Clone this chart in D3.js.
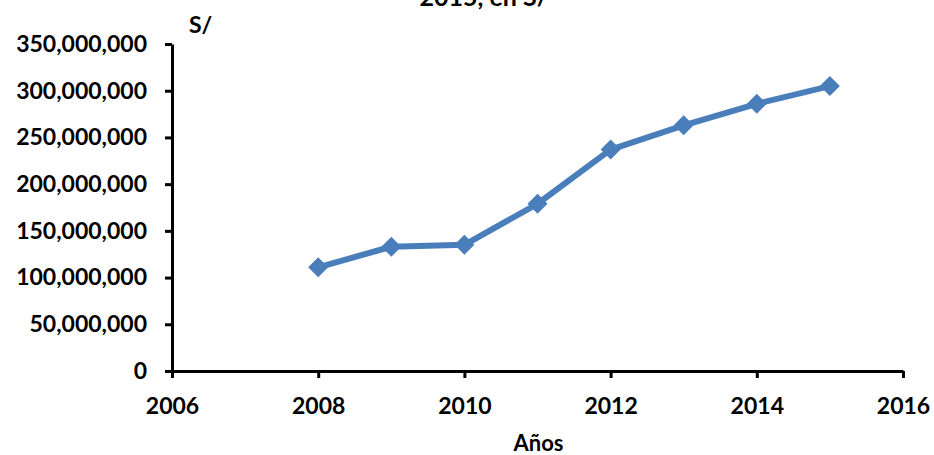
<!DOCTYPE html>
<html>
<head>
<meta charset="utf-8">
<script src="https://cdn.jsdelivr.net/npm/d3@7"></script>
<style>
  body { margin: 0; background: #fff; }
  svg text { font-family: Lato, "Open Sans", sans-serif; font-weight: bold; fill: #000; }
</style>
</head>
<body>
<svg id="chart" width="934" height="455"></svg>
<script>
// data
const years = [2008, 2009, 2010, 2011, 2012, 2013, 2014, 2015];
const amounts = [111e6, 133e6, 135e6, 179e6, 237e6, 263e6, 286e6, 305e6];
const xTicks = [2006, 2008, 2010, 2012, 2014, 2016];
const yTicks = [0, 50e6, 100e6, 150e6, 200e6, 250e6, 300e6, 350e6];
const titleText = "2015, en S/";
const yUnit = "S/";
const xTitle = "Años";

const svg = d3.select("#chart");
const margin = { left: 172, right: 31, top: 44, bottom: 84 };
const width = 934, height = 455;

const x = d3.scaleLinear().domain([2006, 2016]).range([margin.left, width - margin.right]);
const y = d3.scaleLinear().domain([0, 350e6]).range([height - margin.bottom, margin.top]);

const fmt = d3.format(",");

// title (cut off at top in the original)
svg.append("text")
  .attr("x", 484).attr("y", 6)
  .attr("text-anchor", "middle")
  .style("font-size", "25px")
  .text(titleText);

// y axis
const yAxis = svg.append("g")
  .attr("transform", `translate(${margin.left},0)`)
  .call(d3.axisLeft(y).tickValues(yTicks).tickFormat((d) => fmt(d)).tickSize(7).tickPadding(18).tickSizeOuter(0));

// x axis
const xAxis = svg.append("g")
  .attr("transform", `translate(0,${y(0)})`)
  .call(d3.axisBottom(x).tickValues(xTicks).tickFormat(d3.format("d")).tickSize(7).tickPadding(20).tickSizeOuter(0));

[yAxis, xAxis].forEach((g) => {
  g.select(".domain").attr("stroke", "#000").attr("stroke-width", 3);
  g.selectAll(".tick line").attr("stroke", "#000").attr("stroke-width", 3);
  g.selectAll(".tick text").style("font-size", "23px").attr("fill", "#000");
});
xAxis.selectAll(".tick line").attr("y1", 0);

// unit label above y axis
svg.append("text")
  .attr("x", 189).attr("y", 33)
  .style("font-size", "23px")
  .text(yUnit);

// x axis title
svg.append("text")
  .attr("x", x(2011) + 1).attr("y", 451)
  .attr("text-anchor", "middle")
  .style("font-size", "22px")
  .text(xTitle);

const color = "#4a7ebb";
const pts = years.map((d, i) => ({ year: d, value: amounts[i] }));

svg.append("path")
  .datum(pts)
  .attr("fill", "none")
  .attr("stroke", color)
  .attr("stroke-width", 6)
  .attr("stroke-linejoin", "round")
  .attr("d", d3.line().x((d) => x(d.year)).y((d) => y(d.value)));

svg.append("g")
  .selectAll("path")
  .data(pts)
  .join("path")
  .attr("transform", (d) => `translate(${x(d.year)},${y(d.value)}) rotate(45)`)
  .attr("d", d3.symbol().type(d3.symbolSquare).size(200))
  .attr("fill", color);
</script>
</body>
</html>
